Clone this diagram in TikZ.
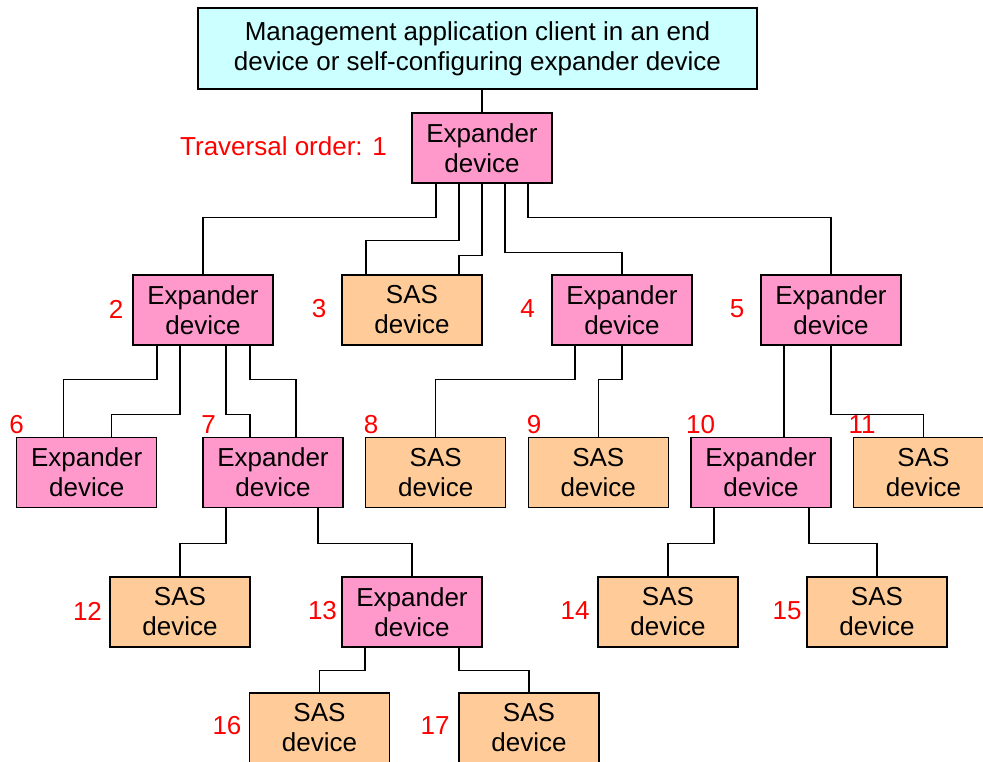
\documentclass[tikz,border=0pt]{standalone}
\usepackage{fontspec}
\setmainfont{Liberation Sans}
\usetikzlibrary{positioning}
\definecolor{clientCyan}{HTML}{CCFFFF}
\definecolor{expPink}{HTML}{FF99CC}
\definecolor{sasOrange}{HTML}{FFCC99}

\begin{document}
\begin{tikzpicture}[x=1pt, y=-1pt, font=\fontsize{26}{30}\selectfont]

% --- Define reusable styles and key levels ---
\tikzset{
    devbox/.style={draw, line width=1.5pt, minimum width=140pt, minimum height=70pt, align=center, inner sep=2pt},
    expander/.style={devbox, fill=expPink},
    sasdev/.style={devbox, fill=sasOrange},
    order/.style={text=red, inner sep=0pt},
    link/.style={line width=1.3pt}
}
% Vertical centres of the rows of devices
\def\rowA{148}
\def\rowB{310}
\def\rowC{472.5}
\def\rowD{612}
\def\rowE{728}

\clip (0,0) rectangle (983,761);

% 1. Management application client on top
\node[draw, line width=1.5pt, fill=clientCyan, minimum width=559pt, minimum height=81pt, align=center] (client) at (477.5,48.5) {Management application client in an end\\device or self-configuring expander device};

% 2. The root expander
\node[expander] (exp1) at (482,\rowA) {Expander\\device};
\node[order, anchor=east] at (387,146.5) {Traversal order: 1};

% 3. Second row
\node[expander] (exp2) at (203,\rowB) {Expander\\device};
\node[sasdev] (sas3) at (412,\rowB) {SAS\\device};
\node[expander] (exp4) at (622,\rowB) {Expander\\device};
\node[expander] (exp5) at (831,\rowB) {Expander\\device};

% 4. Third row
\node[expander] (exp6) at (86.7,\rowC) {Expander\\device};
\node[expander] (exp7) at (273,\rowC) {Expander\\device};
\node[sasdev] (sas8) at (435.7,\rowC) {SAS\\device};
\node[sasdev] (sas9) at (598.3,\rowC) {SAS\\device};
\node[expander] (exp10) at (761,\rowC) {Expander\\device};
\node[sasdev] (sas11) at (923.5,\rowC) {SAS\\device};

% 5. Fourth and fifth rows
\node[sasdev] (sas12) at (180,\rowD) {SAS\\device};
\node[expander] (exp13) at (412,\rowD) {Expander\\device};
\node[sasdev] (sas14) at (668,\rowD) {SAS\\device};
\node[sasdev] (sas15) at (877,\rowD) {SAS\\device};
\node[sasdev] (sas16) at (319.5,\rowE) {SAS\\device};
\node[sasdev] (sas17) at (529,\rowE) {SAS\\device};

% 6. Traversal order numbers
\node[order] at (116,309) {2};
\node[order] at (319,309) {3};
\node[order] at (527.5,309) {4};
\node[order] at (737,309) {5};
\node[order] at (16.5,425) {6};
\node[order] at (208.5,425) {7};
\node[order] at (371,425) {8};
\node[order] at (534,425) {9};
\node[order] at (700.5,425) {10};
\node[order] at (862,425) {11};
\node[order] at (87.5,611) {12};
\node[order] at (322.5,611) {13};
\node[order] at (575,611) {14};
\node[order] at (787,611) {15};
\node[order] at (227,726) {16};
\node[order] at (435,726) {17};

% 7. Links from the client and the root expander
\draw[link] (client.south -| exp1.north) -- (exp1.north);
\draw[link] ([xshift=-46]exp1.south) -- ++(0,34) -| (exp2.north);
\draw[link] ([xshift=-23]exp1.south) -- ++(0,57) -| ([xshift=-46]sas3.north);
\draw[link] (exp1.south) -- ++(0,72) -| ([xshift=47]sas3.north);
\draw[link] ([xshift=23]exp1.south) -- ++(0,69) -| (exp4.north);
\draw[link] ([xshift=46]exp1.south) -- ++(0,34) -| (exp5.north);

% 8. Links below the second row
\draw[link] ([xshift=-46]exp2.south) -- ++(0,34) -| ([xshift=-23]exp6.north);
\draw[link] ([xshift=-23]exp2.south) -- ++(0,69) -| ([xshift=25]exp6.north);
\draw[link] ([xshift=23]exp2.south) -- ++(0,69) -| ([xshift=-23]exp7.north);
\draw[link] ([xshift=47]exp2.south) -- ++(0,34) -| ([xshift=23]exp7.north);
\draw[link] ([xshift=-47]exp4.south) -- ++(0,34) -| (sas8.north);
\draw[link] (exp4.south) -- ++(0,34) -| (sas9.north);
\draw[link] ([xshift=-47]exp5.south) -- ([xshift=-47]exp5.south |- exp10.north);
\draw[link] (exp5.south) -- ++(0,69) -| (sas11.north);

% 9. Links below the third and fourth rows
\draw[link] ([xshift=-47]exp7.south) -- ++(0,35) -| (sas12.north);
\draw[link] ([xshift=45]exp7.south) -- ++(0,35) -| (exp13.north);
\draw[link] ([xshift=-47]exp10.south) -- ++(0,35) -| (sas14.north);
\draw[link] ([xshift=48]exp10.south) -- ++(0,35) -| (sas15.north);
\draw[link] ([xshift=-47]exp13.south) -- ++(0,23) -| (sas16.north);
\draw[link] ([xshift=47]exp13.south) -- ++(0,23) -| (sas17.north);

\end{tikzpicture}
\end{document}
